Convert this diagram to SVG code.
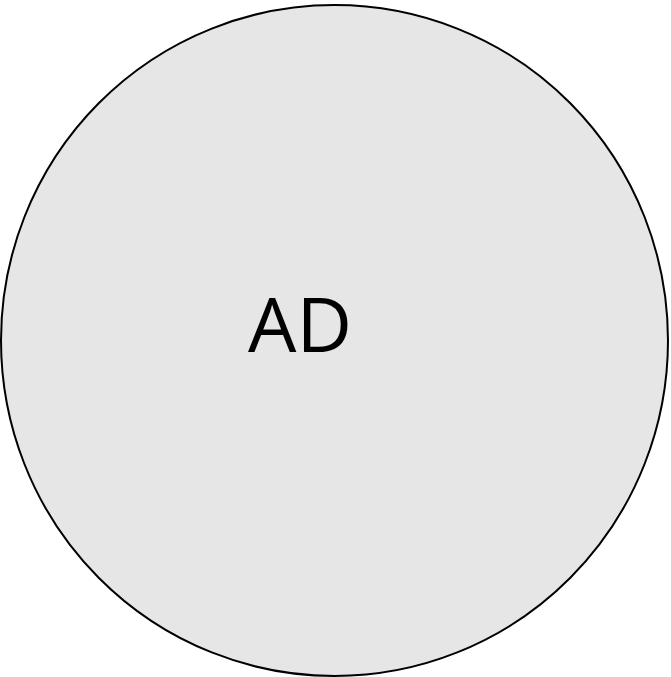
<svg xmlns="http://www.w3.org/2000/svg" width="671" height="677" viewBox="0 0 671 677">
<style>
.node{fill:#e6e6e6;stroke:#000;stroke-width:2}
.lbl{font-family:"Open Sans","Liberation Sans",sans-serif;font-size:75px;fill:#000}
</style>
<rect width="671" height="677" fill="#fff"/>
<g id="connectors"></g>
<g id="AD">
<ellipse class="node" cx="334.5" cy="340.5" rx="333.5" ry="335.5"/>
<text class="lbl" x="248" y="352" textLength="104" lengthAdjust="spacingAndGlyphs">AD</text>
</g>
</svg>
